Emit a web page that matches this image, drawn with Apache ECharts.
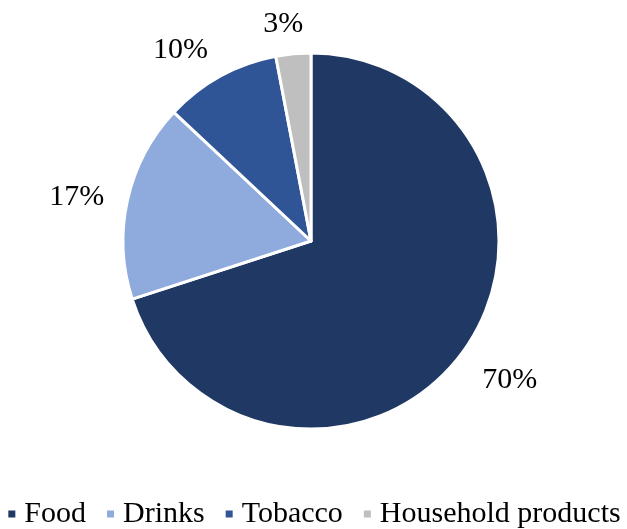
<!DOCTYPE html>
<html><head><meta charset="utf-8">
<script src="https://cdn.jsdelivr.net/npm/echarts@6/dist/echarts.min.js"></script>
<style>html,body{margin:0;padding:0;background:#fff}#c{width:627px;height:529px}</style>
</head><body><div id="c"></div>
<script>
const categories = ['Food', 'Drinks', 'Tobacco', 'Household products'];
const shares = [70, 17, 10, 3];
const labels = ['70%', '17%', '10%', '3%'];

const colors = ['#203864', '#8FAADC', '#2F5597', '#BFBFBF'];
const labelNudge = { 'Food': [3, -3], 'Drinks': [2, 9], 'Tobacco': [-14, 21], 'Household products': [-5, 24] };
const FONT = '"Liberation Serif", "Times New Roman", serif';

const chart = echarts.init(document.getElementById('c'));
const dataMain = categories.map((n, i) => ({ name: n, value: shares[i], itemStyle: { color: colors[i] } }));
const dataLabel = categories.map((n, i) => {
  const nd = labelNudge[n] || [0, 0];
  return { name: n, value: shares[i], label: { offset: nd } };
});
chart.setOption({
  animation: false,
  legend: {
    top: 494,
    left: 'center',
    data: categories,
    icon: 'rect',
    itemWidth: 9,
    itemHeight: 9,
    itemGap: 19,
    textStyle: { fontFamily: FONT, fontSize: 30, color: '#000', padding: [0, 0, 0, 3] }
  },
  series: [
    {
      type: 'pie',
      center: [311, 241],
      radius: [0, 188],
      startAngle: 90,
      clockwise: true,
      data: dataMain,
      itemStyle: { borderColor: '#fff', borderWidth: 3 },
      label: { show: false },
      labelLine: { show: false },
      emphasis: { disabled: true }
    },
    {
      type: 'pie',
      center: [311, 241],
      radius: [188, 290],
      startAngle: 90,
      clockwise: true,
      silent: true,
      legendHoverLink: false,
      data: dataLabel,
      itemStyle: { color: 'rgba(0,0,0,0)' },
      label: {
        show: true, position: 'inside',
        formatter: p => labels[p.dataIndex],
        fontFamily: FONT, fontSize: 30, color: '#000'
      },
      labelLine: { show: false },
      emphasis: { disabled: true }
    }
  ]
});
</script></body></html>
